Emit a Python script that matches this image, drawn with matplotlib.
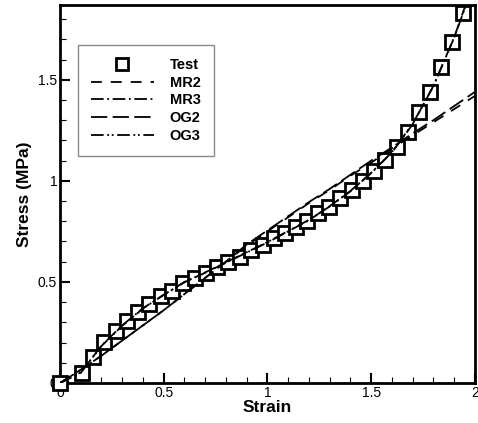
import numpy as np
import matplotlib.pyplot as plt

plt.rcParams['font.family'] = ['Liberation Sans', 'DejaVu Sans']

# test data
test_strain = [0.0, 0.106, 0.159, 0.212, 0.270, 0.323, 0.376, 0.429, 0.487, 0.540,
               0.593, 0.651, 0.704, 0.757, 0.810, 0.867, 0.920, 0.978, 1.031, 1.084,
               1.137, 1.190, 1.243, 1.296, 1.349, 1.407, 1.460, 1.513, 1.566, 1.624,
               1.677, 1.730, 1.783, 1.836, 1.889, 1.942]
test_stress = [0.0, 0.050, 0.129, 0.203, 0.257, 0.307, 0.351, 0.391, 0.431, 0.455,
               0.495, 0.520, 0.545, 0.574, 0.599, 0.624, 0.658, 0.683, 0.718, 0.743,
               0.772, 0.802, 0.842, 0.871, 0.916, 0.955, 1.000, 1.050, 1.104, 1.168,
               1.243, 1.342, 1.441, 1.564, 1.688, 1.832]

# model curves
model_strain = [0.0, 0.1, 0.2, 0.3, 0.4, 0.5, 0.6, 0.7, 0.8, 0.9, 1.0,
                1.1, 1.2, 1.3, 1.4, 1.5, 1.6, 1.7, 1.8, 1.9, 2.0]
mr2 = [0.0, 0.065, 0.135, 0.21, 0.285, 0.36, 0.44, 0.52, 0.60, 0.68, 0.75,
       0.82, 0.89, 0.955, 1.025, 1.09, 1.16, 1.225, 1.29, 1.355, 1.42]
mr3 = [0.0, 0.05, 0.185, 0.285, 0.37, 0.435, 0.50, 0.545, 0.595, 0.645, 0.695,
       0.75, 0.805, 0.875, 0.95, 1.04, 1.14, 1.28, 1.47, 1.71, 2.0]
og2 = [0.0, 0.065, 0.135, 0.21, 0.285, 0.36, 0.44, 0.52, 0.60, 0.685, 0.755,
       0.825, 0.895, 0.96, 1.03, 1.10, 1.165, 1.235, 1.30, 1.37, 1.44]
og3 = [0.0, 0.052, 0.183, 0.283, 0.368, 0.437, 0.498, 0.547, 0.597, 0.647, 0.697,
       0.752, 0.807, 0.873, 0.948, 1.038, 1.142, 1.282, 1.468, 1.708, 1.99]

fig = plt.figure(figsize=(4.78, 4.23), dpi=100)
ax = fig.add_axes([0.1255, 0.0946, 0.868, 0.8936])

ax.plot(test_strain, test_stress, 's', ms=9.5, mfc='white', mec='black', mew=2,
        color='black', label='Test', clip_on=False, zorder=3)
ax.plot(model_strain, mr2, color='black', lw=1.3, dashes=(6, 5), label='MR2', zorder=4)
ax.plot(model_strain, mr3, color='black', lw=1.3, dashes=(7, 2, 1, 2), label='MR3', zorder=4)
ax.plot(model_strain, og2, color='black', lw=1.3, dashes=(9, 3), label='OG2', zorder=4)
ax.plot(model_strain, og3, color='black', lw=1.3, dashes=(7, 2, 1, 1.5, 1, 2), label='OG3', zorder=4)

ax.set_xlim(0, 2)
ax.set_ylim(0, 1.87)
ax.set_xticks([0, 0.5, 1, 1.5, 2])
ax.set_xticklabels(['0', '0.5', '1', '1.5', '2'])
ax.set_yticks([0, 0.5, 1, 1.5])
ax.set_yticklabels(['0', '0.5', '1', '1.5'])
ax.set_xticks(np.arange(0, 2.01, 0.1), minor=True)
ax.set_yticks(np.arange(0, 1.87, 0.1), minor=True)
ax.tick_params(which='major', direction='in', length=7, width=1.5, labelsize=10, pad=2)
ax.tick_params(which='minor', direction='in', length=4, width=0.8)
for s in ax.spines.values():
    s.set_linewidth(2)

ax.set_xlabel('Strain', fontsize=12.5, fontweight='bold', labelpad=0)
ax.set_ylabel('Stress (MPa)', fontsize=12.5, fontweight='bold', labelpad=4)

leg = ax.legend(loc='upper left', bbox_to_anchor=(0.043, 0.894),
                prop={'weight': 'bold', 'size': 10.5}, handlelength=4.3, handletextpad=1.1,
                labelspacing=0.25, borderpad=0.9, borderaxespad=0, fancybox=False,
                framealpha=1, markerscale=0.9)
leg.get_frame().set_edgecolor('#888888')
leg.get_frame().set_linewidth(1)

fig.savefig('out.png', dpi=100)
